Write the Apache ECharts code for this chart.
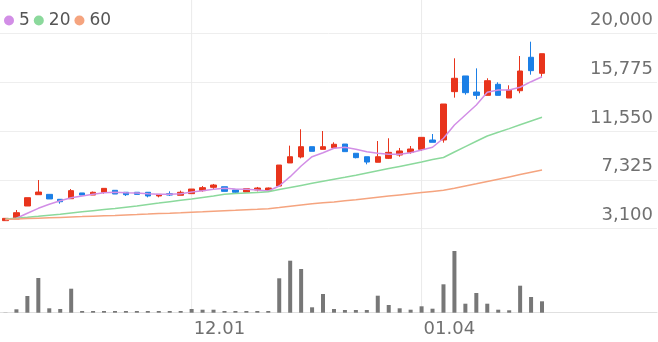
<!DOCTYPE html>
<html>
<head>
<meta charset="utf-8">
<script src="https://cdn.jsdelivr.net/npm/echarts@6/dist/echarts.min.js"></script>
<style>
html,body{margin:0;padding:0;background:#fff;}
#c{width:658px;height:342px;}
</style>
</head>
<body>
<div id="c"></div>
<script>
const dates = ['11.06','11.09','11.10','11.11','11.12','11.13','11.16','11.17','11.18','11.19','11.20','11.23','11.24','11.25','11.26','11.27','11.30',
'12.01','12.02','12.03','12.04','12.07','12.08','12.09','12.10','12.11','12.14','12.15','12.16','12.17','12.18','12.21','12.22','12.23','12.24','12.28','12.29','12.30',
'01.04','01.05','01.06','01.07','01.08','01.11','01.12','01.13','01.14','01.15','01.18','01.19'];
const emptySlots = 10;
const xTickLabels = ['12.01','01.04'];
const yTicks = [3100, 7325, 11550, 15775, 20000];
// [open, close, low, high]
const ohlc = [
[3780,3980,3780,3980],[3920,4470,3920,4700],[5050,5770,5050,5770],[6030,6260,6030,7300],[6060,5660,5660,6060],
[5630,5420,5250,5630],[5680,6380,5680,6520],[6180,6000,6000,6180],[6000,6240,6000,6300],[6240,6580,6120,6580],
[6410,6090,6090,6410],[6240,6030,5920,6240],[6240,6060,6060,6240],[6240,5920,5800,6240],[5920,6060,5800,6060],
[6120,6000,5920,6320],[5980,6240,5980,6380],[6120,6520,6120,6520],[6380,6640,6290,6780],[6670,6870,6520,6960],
[6720,6320,6320,6720],[6440,6240,6120,6440],[6260,6550,6260,6550],[6440,6610,6320,6700],[6410,6610,6320,6650],
[6780,8600,6780,8600],[8780,9320,8780,10280],[9300,10190,9180,11700],[10190,9790,9790,10190],[9960,10190,9960,11550],
[10100,10400,10100,10570],[10420,9760,9760,10420],[9620,9240,9180,9620],[9320,8860,8660,9320],[8840,9320,8840,10680],
[9180,9700,9120,10920],[9470,9820,9320,10080],[9700,9990,9580,10250],[9960,11000,9820,11000],[10770,10570,10570,11290],
[10770,13890,10540,13890],[14960,16120,14440,17850],[16320,14870,14700,16320],[14930,14640,14300,16980],[14640,15910,14640,16120],
[15600,14640,14640,15770],[14410,15100,14410,15510],[15040,16750,14820,18050],[17940,16780,16430,19290],[16550,18250,16200,18250]
];
const ma5 = [3880,3984,4417,4850,5197,5509,5769,5917,6064,6203,6237,6203,6177,6116,6064,6064,6116,6263,6376,6497,
6584,6523,6497,6437,6350,6783,7590,8517,9323,9670,10051,10138,9964,9756,9617,9530,9530,9670,9904,10138,
10918,12070,12937,13803,14904,15104,15104,15338,15823,16256];
const ma20 = [3923,3993,4071,4157,4253,4339,4443,4547,4643,4738,4833,4946,5059,5180,5301,5423,5544,5665,5795,5925,
6064,6125,6177,6229,6281,6471,6653,6835,7017,7191,7364,7537,7719,7910,8101,8291,8482,8673,8864,9072,
9254,9730,10198,10658,11117,11438,11758,12088,12417,12738];
const ma60 = [3889,3923,3958,3993,4027,4062,4097,4131,4166,4201,4235,4279,4313,4348,4391,4426,4469,4513,4547,4591,
4634,4677,4721,4764,4816,4911,5024,5137,5241,5327,5405,5501,5596,5700,5804,5908,6012,6116,6220,6315,
6411,6593,6783,6974,7173,7373,7572,7772,7971,8170];
const volume = [2000,34000,167000,347000,44000,37000,240000,17000,17000,17000,17000,17000,17000,17000,17000,17000,17000,37000,30000,30000,
17000,17000,17000,17000,17000,344000,520000,437000,54000,187000,37000,27000,27000,27000,170000,77000,44000,30000,64000,40000,
284000,617000,90000,197000,90000,30000,24000,270000,157000,114000];

const categories = dates.concat(new Array(emptySlots).fill(''));
const guideData = categories.map(c => (xTickLabels.includes(c) ? 1 : '-'));
const UP = '#e8341c', DOWN = '#1b7fe6';
const C5 = '#d28ee6', C20 = '#8bd99c', C60 = '#f5a47f';
const FONT = 'DejaVu Sans';

const chart = echarts.init(document.getElementById('c'), null, {renderer: 'canvas'});
chart.setOption({
  animation: false,
  backgroundColor: '#fff',
  legend: {
    left: -1, top: 7, icon: 'circle', itemWidth: 10, itemHeight: 10, itemGap: 4,
    textStyle: {fontFamily: FONT, fontSize: 17, color: '#555'},
    data: ['5','20','60']
  },
  grid: [
    {left: 0, right: 1, top: 33.5, height: 195},
    {left: 0, right: 1, top: 240, height: 72.7},
    {left: 0, right: 1, top: 0, height: 312.7}
  ],
  xAxis: [
    {type: 'category', gridIndex: 0, data: categories, boundaryGap: true,
     axisLine: {show: false}, axisTick: {show: false}, axisLabel: {show: false}, splitLine: {show: false}},
    {type: 'category', gridIndex: 1, data: categories, boundaryGap: true,
     axisLine: {show: true, lineStyle: {color: '#e0e0e0', width: 1}}, axisTick: {show: false},
     axisLabel: {show: true, interval: (i, v) => xTickLabels.includes(v), align: 'left', margin: 8, padding: [0,0,0,2],
       fontFamily: FONT, fontSize: 18, color: '#707070'},
     splitLine: {show: false}},
    {type: 'category', gridIndex: 2, data: categories, boundaryGap: true,
     axisLine: {show: false}, axisTick: {show: false}, axisLabel: {show: false}, splitLine: {show: false}}
  ],
  yAxis: [
    {type: 'value', gridIndex: 0, position: 'right', min: yTicks[0], max: yTicks[yTicks.length-1], interval: yTicks[1]-yTicks[0],
     axisLine: {show: false}, axisTick: {show: false},
     splitLine: {show: true, lineStyle: {color: '#eeeeee', width: 1}},
     axisLabel: {inside: true, margin: 4, verticalAlign: 'bottom', padding: [0,0,4,0],
       fontFamily: FONT, fontSize: 18, color: '#707070',
       formatter: v => Math.round(v).toLocaleString('en-US')}},
    {type: 'value', gridIndex: 1, min: 0, max: 727000, show: false, splitLine: {show: false}},
    {type: 'value', gridIndex: 2, min: 0, max: 1, show: false, splitLine: {show: false}}
  ],
  series: [
    {name: 'guide', type: 'bar', xAxisIndex: 2, yAxisIndex: 2, data: guideData, barWidth: 1, silent: true,
     itemStyle: {color: '#eaeaea'}},
    {name: 'k', type: 'candlestick', xAxisIndex: 0, yAxisIndex: 0, data: ohlc, barWidth: 6,
     itemStyle: {color: UP, color0: DOWN, borderColor: UP, borderColor0: DOWN, borderWidth: 1}},
    {name: '5', type: 'line', xAxisIndex: 0, yAxisIndex: 0, data: ma5, showSymbol: false, symbol: 'none',
     lineStyle: {color: C5, width: 1.5}, itemStyle: {color: C5}},
    {name: '20', type: 'line', xAxisIndex: 0, yAxisIndex: 0, data: ma20, showSymbol: false, symbol: 'none',
     lineStyle: {color: C20, width: 1.5}, itemStyle: {color: C20}},
    {name: '60', type: 'line', xAxisIndex: 0, yAxisIndex: 0, data: ma60, showSymbol: false, symbol: 'none',
     lineStyle: {color: C60, width: 1.5}, itemStyle: {color: C60}},
    {name: 'vol', type: 'bar', xAxisIndex: 1, yAxisIndex: 1, data: volume, barWidth: 4,
     itemStyle: {color: '#777777'}}
  ]
});
</script>
</body>
</html>
